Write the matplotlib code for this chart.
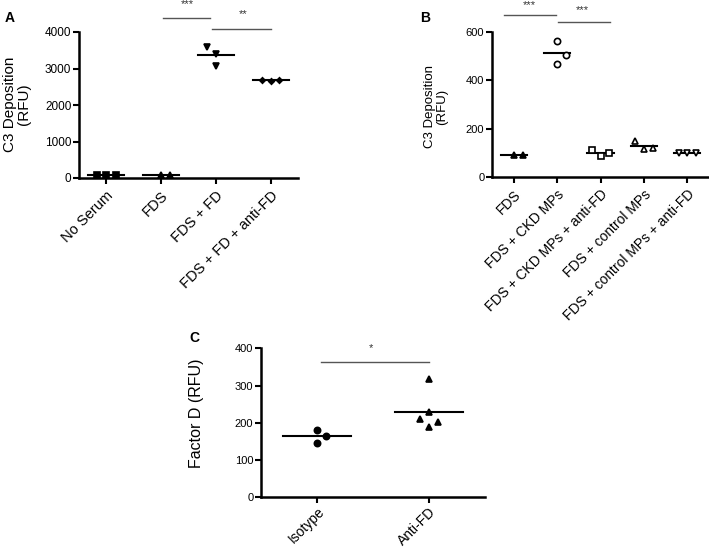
import numpy as np
import matplotlib
matplotlib.use("Agg")
import matplotlib.pyplot as plt

plt.rcParams['font.family'] = ['Liberation Sans', 'DejaVu Sans']

# ---- data ----
a_labels = ['No Serum', 'FDS', 'FDS + FD', 'FDS + FD + anti-FD']
a_values = [[92, 85, 88], [80, 84], [3600, 3400, 3080], [2690, 2650, 2690]]

b_labels = ['FDS', 'FDS + CKD MPs', 'FDS + CKD MPs + anti-FD',
            'FDS + control MPs', 'FDS + control MPs + anti-FD']
b_values = [[90, 92], [565, 505, 468], [110, 86, 100], [147, 115, 120], [100, 97, 100]]

c_labels = ['Isotype', 'Anti-FD']
c_values = [[182, 147, 165], [317, 229, 211, 190, 202]]

# significance bars: (x0, x1, y, label, label_x, label_y)
a_sig = [(1.04, 1.89, 4390, '***', 1.47, 4760), (1.93, 3.0, 4090, '**', 2.49, 4480)]
b_sig = [(-0.23, 0.97, 670, '***', 0.36, 712), (1.01, 2.21, 643, '***', 1.59, 694)]
c_sig = [(0.04, 1.0, 362, '*', 0.48, 400)]

# ---- style ----
W, H = 709, 548
a_jit = [[-0.18, 0, 0.17], [0, 0.17], [-0.16, 0, 0], [-0.16, 0, 0.15]]
a_mk = ['s', '^', 'v', 'D']
a_ms = [4.0, 4.0, 4.0, 2.8]
b_jit = [[0, 0.21], [0, 0.2, 0], [-0.2, 0, 0.19], [-0.2, 0, 0.2], [-0.19, 0, 0.19]]
b_mk = ['^', 'o', 's', '^', 'v']
b_fill = [True, False, False, False, False]
c_jit = [[0, 0, 0.08], [0, 0, -0.08, 0, 0.08]]
c_mk = ['o', '^']


def px_axes(fig, left, top, right, bottom):
    return fig.add_axes([left / W, 1 - bottom / H, (right - left) / W, (bottom - top) / H])


def style_axis(ax, labels, ylim, yticks, ytick_fs, xtick_fs, xpad=3):
    ax.set_xlim(-0.5, len(labels) - 0.5)
    ax.set_ylim(*ylim)
    ax.set_yticks(yticks)
    ax.set_xticks(range(len(labels)))
    ax.set_xticklabels(labels, rotation=45, ha='right', va='top',
                       rotation_mode='anchor', fontsize=xtick_fs)
    ax.tick_params(axis='y', labelsize=ytick_fs, length=4.5, width=1.5, pad=1)
    ax.tick_params(axis='x', length=4.5, width=1.5, pad=xpad)
    for s in ['top', 'right']:
        ax.spines[s].set_visible(False)
    for s in ['left', 'bottom']:
        ax.spines[s].set_linewidth(1.8)
    ax.spines['left'].set_bounds(ylim[0], yticks[-1])


def draw_groups(ax, values, jit, markers, fills, sizes, half):
    for i, vals in enumerate(values):
        xs = [i + j for j in jit[i]]
        fc = 'black' if fills[i] else 'white'
        ax.plot(xs, vals, linestyle='none', marker=markers[i], ms=sizes[i],
                mfc=fc, mec='black', mew=1.2, zorder=3, clip_on=False)
        m = np.mean(vals)
        ax.plot([i - half, i + half], [m, m], color='black', lw=1.5, zorder=2)


def draw_sig(ax, sigs, fs):
    for x0, x1, y, lab, lx, ly in sigs:
        ax.plot([x0, x1], [y, y], color='#555555', lw=1.0, clip_on=False)
        ax.text(lx, ly, lab, ha='center', va='center', fontsize=fs, color='#333333',
                clip_on=False)


fig = plt.figure(figsize=(W / 100, H / 100), dpi=100)

# panel A
axA = px_axes(fig, 79, 32, 298, 178)
draw_groups(axA, a_values, a_jit, a_mk, [True] * 4, a_ms, 0.33)
style_axis(axA, a_labels, (0, 4000), [0, 1000, 2000, 3000, 4000], 8.5, 10.5)
draw_sig(axA, a_sig, 8)

# panel B
axB = px_axes(fig, 492, 32.3, 709, 176.7)
draw_groups(axB, b_values, b_jit, b_mk, b_fill, [4.5] * 5, 0.3)
style_axis(axB, b_labels, (0, 600), [0, 200, 400, 600], 8, 10)
draw_sig(axB, b_sig, 8)

# panel C
axC = px_axes(fig, 261, 348.3, 485, 497.3)
draw_groups(axC, c_values, c_jit, c_mk, [True, True], [4.5, 4.5], 0.3)
style_axis(axC, c_labels, (0, 400), [0, 100, 200, 300, 400], 8, 10, xpad=1)
draw_sig(axC, c_sig, 8)

# y labels and panel letters in pixel coordinates
fig.text(17 / W, 1 - 104.5 / H, 'C3 Deposition\n(RFU)', rotation=90, ha='center',
         va='center', fontsize=11, linespacing=1.0)
fig.text(436 / W, 1 - 107 / H, 'C3 Deposition\n(RFU)', rotation=90, ha='center',
         va='center', fontsize=9.5, linespacing=1.0)
fig.text(197 / W, 1 - 413 / H, 'Factor D (RFU)', rotation=90, ha='center',
         va='center', fontsize=11.5)
for lab, x, y in [('A', 10, 17.5), ('B', 425, 17.5), ('C', 194, 337.5)]:
    fig.text(x / W, 1 - y / H, lab, ha='center', va='center', fontsize=10,
             fontweight='bold')

fig.savefig('out.png', dpi=100)
